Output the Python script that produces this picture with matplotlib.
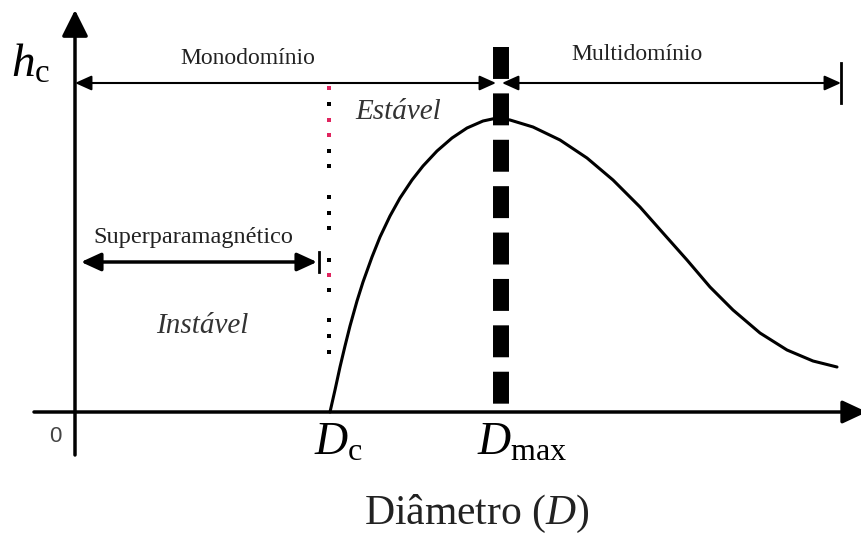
import matplotlib
matplotlib.use("Agg")
import matplotlib.pyplot as plt
from matplotlib.patches import FancyArrowPatch

plt.rcParams["font.family"] = ["Liberation Serif", "DejaVu Serif"]
plt.rcParams["mathtext.fontset"] = "custom"
plt.rcParams["mathtext.rm"] = "Liberation Serif"
plt.rcParams["mathtext.it"] = "Liberation Serif:italic"
plt.rcParams["lines.scale_dashes"] = False

# coercivity curve h_c(D), arbitrary units
diameter = [255, 260, 265, 270, 275, 282, 288, 297, 305, 315, 325, 337, 348, 362,
            377, 392, 408, 422, 435, 458, 485, 512, 538, 565, 588, 612, 635, 658,
            685, 712, 738, 762]
coercivity = [0, 22, 45, 66, 86, 111, 130, 155, 175, 196, 214, 232, 246, 261,
              274, 284, 291, 294, 292, 285, 272, 254, 232, 205, 179, 152, 125, 102,
              79, 62, 51, 45]

d_c = 254
d_max = 426
d_end = 766
range_level = 329
spm_level = 150
dashed_top = 365
dashed_bottom = 7

# dotted marker line at D_c
dot_heights = [324, 308, 292, 277, 261, 246, 215, 199, 184, 152, 137, 122, 92, 76, 60]
dot_is_red = [True, False, True, True, False, False, False, False, False, False,
              True, False, False, False, False]

fig = plt.figure(figsize=(8.61, 5.41), dpi=100)
ax = fig.add_axes([0, 0, 1, 1])
ax.set_xlim(-75, 786)
ax.set_ylim(-129, 412)
ax.axis("off")


def arrow(p0, p1, style, lw, **kw):
    patch = FancyArrowPatch(p0, p1, arrowstyle=style, mutation_scale=1,
                            shrinkA=0, shrinkB=0, lw=lw, color="black",
                            clip_on=False, **kw)
    ax.add_patch(patch)


# axes with arrowheads
arrow((0, -43), (0, 402), "-|>,head_length=16,head_width=8", 2.5)
arrow((-41, 0), (792, 0), "-|>,head_length=15,head_width=7", 2.5)
ax.text(-20, -25, "0", family="Liberation Sans", fontsize=16, color="#444444",
        ha="center", va="center")

# curve
ax.plot(diameter, coercivity, color="black", lw=2.2, solid_capstyle="round",
        solid_joinstyle="round")

# thick dashed line at D_max
ax.plot([d_max, d_max], [dashed_top, dashed_bottom], color="black", lw=11.5,
        linestyle=(0, (23, 10.4)), dash_capstyle="butt")

# dotted line at D_c
for h, red in zip(dot_heights, dot_is_red):
    ax.plot(d_c, h, marker="s", markersize=3, color="#e0245e" if red else "black",
            markeredgewidth=0)

# domain ranges
arrow((0, range_level), (d_max - 5, range_level),
      "<|-|>,head_length=10,head_width=4.5", 1.5)
arrow((d_max + 1, range_level), (d_end, range_level),
      "<|-|>,head_length=10,head_width=4.5", 1.5)
ax.plot([d_end, d_end], [range_level - 20, range_level + 20], color="black", lw=2)

arrow((6, spm_level), (d_c - 12, spm_level),
      "<|-|>,head_length=12,head_width=5.5", 2.5)
ax.plot([d_c - 10, d_c - 10], [spm_level - 10, spm_level + 10], color="black", lw=2)

# labels
ax.text(-44, 347, r"$h_{\mathrm{c}}$", fontsize=34, ha="center", va="center")
ax.text(173, 354, "Monodomínio", fontsize=17, color="#222222", ha="center", va="center")
ax.text(562, 357, "Multidomínio", fontsize=17, color="#222222", ha="center", va="center")
ax.text(118, 175, "Superparamagnético", fontsize=17.5, color="#222222",
        ha="center", va="center")
ax.text(127, 86, "Instável", fontsize=21, style="italic", color="#333333",
        ha="center", va="center")
ax.text(323, 300, "Estável", fontsize=21, style="italic", color="#333333",
        ha="center", va="center")
ax.text(d_c + 9, -31, r"$D_{\mathrm{c}}$", fontsize=33, ha="center", va="center")
ax.text(d_max + 21, -31, r"$D_{\mathrm{max}}$", fontsize=33, ha="center", va="center")
ax.text(402, -102, r"Diâmetro $(D)$", fontsize=30, color="#222222",
        ha="center", va="center")

fig.savefig("out.png", dpi=100)
